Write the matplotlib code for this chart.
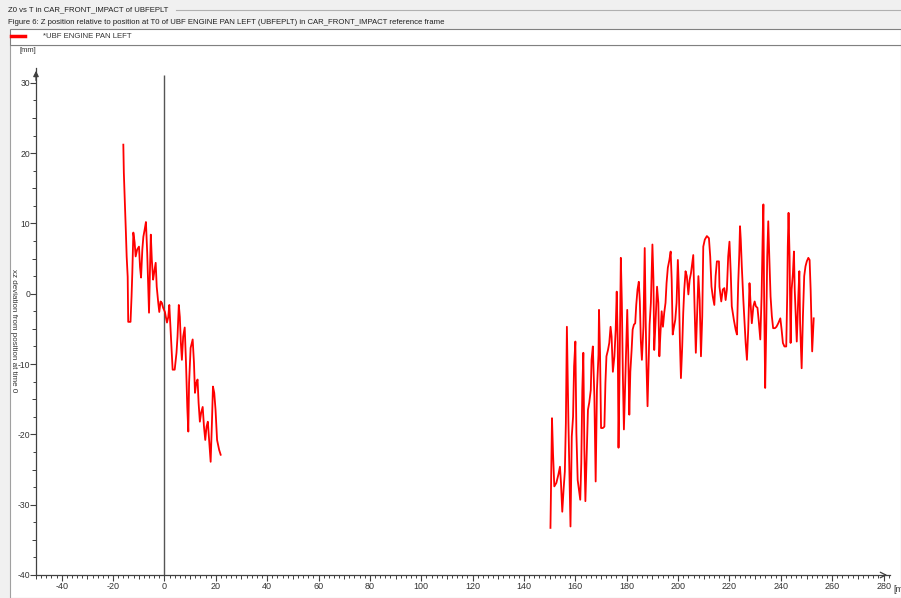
import numpy as np
import matplotlib
matplotlib.use("Agg")
import matplotlib.pyplot as plt
from matplotlib.ticker import MultipleLocator
from matplotlib.patches import Rectangle
from matplotlib.lines import Line2D

plt.rcParams['font.family'] = ['Liberation Sans', 'DejaVu Sans']
plt.rcParams['axes.unicode_minus'] = False

# time [ms] and z deviation [mm], first block (-16 .. 22 ms)
t_a = [-16.0, -15.8, -15.4, -15.0, -14.7, -14.3, -14.1, -13.2, -12.8, -12.5,
       -12.1, -11.6, -11.2, -10.6, -9.9, -9.5, -9.1, -8.6, -8.2, -7.7,
       -7.2, -6.7, -6.0, -5.6, -5.3, -4.9, -4.4, -4.0, -3.4, -3.0,
       -2.4, -2.0, -1.5, -1.0, -0.5, 0.2, 0.6, 1.0, 1.5, 1.9,
       2.4, 2.8, 3.2, 4.0, 4.7, 5.1, 5.6, 6.0, 6.4, 6.8,
       7.3, 7.9, 8.4, 8.9, 9.3, 9.6, 10.2, 11.0, 11.5, 11.9,
       12.4, 12.9, 13.3, 13.8, 14.3, 14.9, 15.4, 15.9, 16.4, 16.9,
       17.4, 18.0, 18.5, 18.9, 19.4, 19.9, 20.5, 21.3, 21.9]
z_a = [21.2, 17.2, 12.9, 8.7, 5.3, 2.4, -4.0, -4.0, -0.4, 3.0,
       8.7, 7.3, 5.3, 6.3, 6.7, 3.8, 2.3, 6.3, 8.1, 9.1,
       10.2, 5.8, -2.7, 3.8, 8.4, 4.8, 2.0, 3.0, 4.4, 1.0,
       -1.3, -2.6, -1.1, -1.3, -2.0, -2.6, -3.4, -4.1, -3.3, -1.6,
       -5.1, -8.0, -10.8, -10.8, -8.4, -6.1, -1.6, -3.3, -7.0, -9.4,
       -6.1, -4.8, -9.8, -16.1, -19.6, -12.7, -7.7, -6.5, -9.8, -14.1,
       -12.7, -12.2, -15.5, -18.2, -16.9, -16.1, -18.9, -20.8, -18.9, -18.2,
       -20.8, -23.9, -18.3, -13.2, -14.1, -16.5, -20.8, -22.2, -22.9]

# second block (150 .. 253 ms)
t_b = [150.3, 150.5, 150.9, 151.3, 151.8, 152.6, 153.4, 154.0, 154.4, 154.9,
       155.4, 155.9, 156.3, 156.7, 157.3, 157.7, 158.1, 158.6, 159.1, 159.5,
       160.0, 160.4, 160.9, 161.4, 161.9, 162.3, 162.7, 163.1, 163.5, 163.9,
       164.4, 164.9, 165.4, 166.0, 166.3, 166.8, 167.4, 167.9, 168.4, 169.0,
       169.2, 169.6, 170.0, 170.7, 171.3, 171.7, 172.1, 172.7, 173.2, 173.7,
       174.1, 174.6, 175.2, 175.7, 176.1, 176.5, 176.8, 177.2, 177.7, 178.1,
       178.5, 178.9, 179.5, 179.8, 180.2, 180.6, 181.0, 181.4, 181.9, 182.3,
       182.8, 183.3, 183.7, 184.2, 184.7, 185.1, 185.5, 185.9, 186.5, 187.0,
       187.4, 187.7, 188.1, 188.5, 188.9, 189.4, 190.0, 190.4, 190.7, 191.2,
       191.8, 192.3, 192.7, 193.1, 193.6, 194.1, 194.6, 195.1, 195.5, 196.0,
       196.6, 197.1, 197.5, 197.9, 198.4, 198.9, 199.4, 199.9, 200.3, 200.7,
       201.1, 201.6, 202.0, 202.4, 202.9, 203.4, 204.0, 204.5, 205.0, 205.5,
       205.9, 206.4, 206.9, 207.5, 207.9, 208.4, 208.9, 209.4, 209.8, 210.4,
       211.2, 212.0, 212.5, 213.0, 213.5, 214.1, 214.6, 215.1, 215.9, 216.1,
       216.8, 217.4, 218.0, 218.5, 219.0, 219.5, 220.0, 220.5, 220.9, 221.7,
       222.4, 222.9, 223.4, 223.8, 224.1, 224.4, 224.8, 225.4, 225.9, 226.3,
       226.8, 227.3, 227.8, 228.2, 228.7, 229.3, 229.8, 230.3, 230.9, 231.4,
       232.0, 232.5, 232.9, 233.2, 233.5, 233.9, 234.3, 234.7, 235.1, 235.5,
       236.0, 236.5, 237.0, 237.7, 238.3, 239.0, 239.8, 240.3, 240.8, 241.4,
       242.1, 242.5, 242.7, 243.0, 243.4, 243.8, 244.2, 244.7, 245.1, 245.4,
       245.8, 246.2, 246.8, 247.2, 247.5, 248.1, 248.6, 249.1, 249.6, 250.1,
       250.7, 251.2, 251.6, 252.0, 252.2, 252.6, 252.8]
z_b = [-33.3, -28.1, -17.7, -22.7, -27.4, -26.9, -25.7, -24.6, -26.9, -31.0,
       -27.9, -25.3, -18.4, -4.7, -18.4, -25.5, -33.1, -20.3, -17.5, -10.3,
       -6.8, -19.8, -26.5, -27.9, -29.3, -24.1, -13.7, -8.4, -22.2, -29.5,
       -23.1, -16.5, -15.5, -13.7, -9.4, -7.5, -14.6, -26.7, -13.7, -8.7,
       -2.3, -8.4, -19.1, -19.1, -18.9, -12.7, -8.9, -8.0, -7.0, -4.7,
       -6.1, -11.1, -8.9, -5.1, 0.3, -7.0, -21.9, -11.3, 5.1, -1.3,
       -11.8, -19.3, -11.3, -6.8, -2.3, -8.7, -17.2, -11.1, -8.0, -5.1,
       -4.4, -4.2, -1.6, 0.6, 1.7, -1.1, -6.8, -9.4, -4.7, 6.5,
       -4.2, -10.3, -16.0, -9.9, -4.4, -1.3, 7.0, 2.0, -8.0, -4.2,
       1.0, -1.3, -8.9, -5.8, -2.5, -4.7, -2.7, -1.3, 1.5, 3.7,
       4.8, 6.0, 2.0, -5.8, -4.7, -3.7, -1.3, 4.8, 0.6, -6.8,
       -12.0, -7.5, -2.7, 0.6, 3.2, 2.5, -0.1, 2.0, 2.9, 4.4,
       5.5, -1.8, -8.4, -1.8, 2.5, -0.9, -8.9, -3.2, 6.7, 7.7,
       8.2, 7.9, 5.3, 1.0, -0.4, -1.6, 2.5, 4.6, 4.6, 1.0,
       -1.1, 0.6, 0.8, -0.9, 0.6, 5.3, 7.4, 2.9, -1.8, -3.7,
       -5.1, -5.8, 1.5, 5.5, 9.6, 7.7, 3.9, -0.9, -4.2, -7.0,
       -9.4, -5.1, 1.5, -1.3, -4.2, -1.8, -1.1, -1.8, -2.0, -3.9,
       -6.5, -0.4, 7.7, 12.7, -0.9, -13.4, -5.1, 5.3, 10.3, 5.3,
       -0.4, -3.2, -4.9, -4.9, -4.7, -4.2, -3.5, -5.1, -7.0, -7.5,
       -7.5, 0.1, 6.7, 11.5, 5.3, -7.0, 0.6, 2.9, 6.0, 0.6,
       -3.2, -6.8, -0.4, 3.2, -4.2, -10.6, -3.2, 2.5, 3.9, 4.6,
       5.1, 4.8, 0.6, -5.1, -8.2, -5.1, -3.5]

x_ticks = [-40, -20, 0, 20, 40, 60, 80, 100, 120, 140, 160, 180, 200, 220, 240, 260, 280]
y_ticks = [-40, -30, -20, -10, 0, 10, 20, 30]
zero_line_top = 31.1

header_bg = '#f0f0f0'
axis_col = '#404040'
txt_col = '#333333'
red = '#ff0000'

W, H = 901, 598
fig = plt.figure(figsize=(W / 100, H / 100), dpi=100, facecolor=header_bg)

# white chart panel with thin frame (behind the axes)
panel = Rectangle((10 / W, 0), 1 - 10 / W, 1 - 45 / H, transform=fig.transFigure,
                  facecolor='white', edgecolor='#a0a0a0', lw=0.8, zorder=-10)
fig.patches.append(panel)

# legend strip
leg = Rectangle((10 / W, 1 - 45 / H), 1 - 10 / W, 16 / H, transform=fig.transFigure,
                facecolor='white', edgecolor='#808080', lw=0.8, zorder=-10)
fig.patches.append(leg)
fig.lines.append(Line2D([11 / W, 25 / W], [1 - 36 / H, 1 - 36 / H], transform=fig.transFigure,
                        color=red, lw=2.5))
fig.text(43 / W, 1 - 36 / H, '*UBF ENGINE PAN LEFT', fontsize=5.6, color=txt_col, va='center')

# header lines
fig.text(8 / W, 1 - 10 / H, 'Z0 vs T in CAR_FRONT_IMPACT of UBFEPLT', fontsize=5.6,
         color='#202020', va='center')
fig.lines.append(Line2D([176 / W, 1], [1 - 10 / H, 1 - 10 / H], transform=fig.transFigure,
                        color='#b0b0b0', lw=0.8))
fig.text(8 / W, 1 - 22 / H,
         'Figure 6: Z position relative to position at T0 of UBF ENGINE PAN LEFT (UBFEPLT) '
         'in CAR_FRONT_IMPACT reference frame', fontsize=5.6, color='#202020', va='center')

ax = fig.add_axes([36 / W, (H - 575) / H, (890 - 36) / W, (575 - 68) / H])
ax.set_facecolor('none')
ax.set_xlim(-50, 282.5)
ax.set_ylim(-40, 32.1)

ax.plot(t_a, z_a, color=red, lw=1.3, zorder=3)
ax.plot(t_b, z_b, color=red, lw=1.3, zorder=3)
ax.vlines(0, -40, zero_line_top, color='#555555', lw=1.0, zorder=2)

for s in ['top', 'right']:
    ax.spines[s].set_visible(False)
for s in ['left', 'bottom']:
    ax.spines[s].set_color(axis_col)
    ax.spines[s].set_linewidth(0.9)

ax.set_xticks(x_ticks)
ax.set_yticks(y_ticks)
ax.xaxis.set_minor_locator(MultipleLocator(2))
ax.yaxis.set_minor_locator(MultipleLocator(2.5))
ax.tick_params(which='major', length=4, width=0.8, color=axis_col, labelsize=6.5,
               labelcolor=txt_col, pad=0.8)
ax.tick_params(axis='y', which='major', labelsize=6.2, pad=0.3)
ax.tick_params(which='minor', length=2.2, width=0.7, color=axis_col)

# medium ticks at every 10 ms / 5 mm
sx = ax.secondary_xaxis(0)
sx.xaxis.set_major_locator(MultipleLocator(10))
sx.tick_params(length=3.2, width=0.7, color=axis_col, labelbottom=False)
sx.spines['bottom'].set_visible(False)
sy = ax.secondary_yaxis(0)
sy.yaxis.set_major_locator(MultipleLocator(5))
sy.tick_params(length=3.2, width=0.7, color=axis_col, labelleft=False)
sy.spines['left'].set_visible(False)

# axis arrows
ax.annotate('', xy=(0, 1.0), xytext=(0, 0.97), xycoords='axes fraction',
            arrowprops=dict(arrowstyle='-|>', color=axis_col, lw=0.9, mutation_scale=8))
ax.annotate('', xy=(1.0, 0), xytext=(0.99, 0), xycoords='axes fraction',
            arrowprops=dict(arrowstyle='->', color=axis_col, lw=0.9, mutation_scale=10))

# units and axis names
fig.text(20 / W, 1 - 50 / H, '[mm]', fontsize=5.5, color=txt_col, va='center')
fig.text(893 / W, 1 - 590 / H, '[ms]', fontsize=6.5, color=txt_col, va='center')
fig.text(13 / W, 1 - 331 / H, 'xz deviation from position at time 0', fontsize=5.8,
         color=txt_col, rotation=270, ha='center', va='center')
fig.text(452 / W, -6 / H, 'time', fontsize=6, color=txt_col, ha='center', va='center')

fig.savefig('out.png', dpi=100, facecolor=fig.get_facecolor())
